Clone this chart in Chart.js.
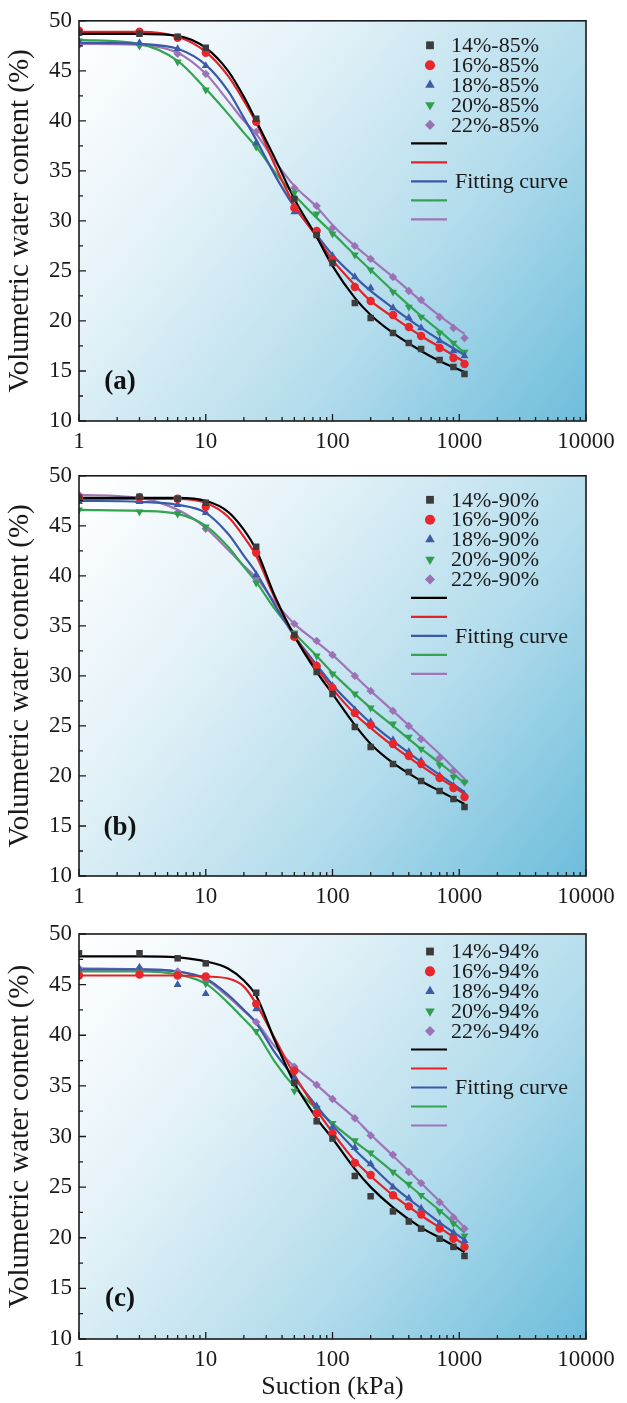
<!DOCTYPE html>
<html>
<head>
<meta charset="utf-8">
<script src="https://cdn.jsdelivr.net/npm/chart.js@4.4.0/dist/chart.umd.min.js"></script>
<style>
  html, body { margin: 0; padding: 0; background: #ffffff; }
  canvas { display: block; }
</style>
</head>
<body>
<canvas id="chartA" width="627" height="455"></canvas>
<canvas id="chartB" width="627" height="455"></canvas>
<canvas id="chartC" width="627" height="493"></canvas>
<script>
// Suction values (kPa) of the measured points and of the fitted curves
const suction = [1, 3, 6, 10, 25, 50, 75, 100, 150, 200, 300, 400, 500, 700, 900, 1100];
const fitSuction = [1, 3, 6, 10, 15, 20, 25, 35, 50, 75, 100, 150, 200, 300, 500, 700, 1100];
const decades = [1, 10, 100, 1000, 10000];
const moisture = ['14%', '16%', '18%', '20%', '22%'];

// (a) compaction 85%
const water85_14 = [48.8, 48.7, 48.4, 47.3, 40.2, 32.2, 28.6, 25.8, 21.8, 20.3, 18.8, 17.8, 17.2, 16.1, 15.4, 14.7];
const water85_16 = [49.0, 48.9, 48.3, 46.8, 39.9, 31.3, 29.0, 26.1, 23.4, 22.0, 20.6, 19.4, 18.5, 17.3, 16.3, 15.7];
const water85_18 = [47.9, 47.8, 47.2, 45.5, 37.8, 30.9, 28.7, 26.5, 24.4, 23.3, 21.3, 20.3, 19.3, 18.0, 17.0, 16.5];
const water85_20 = [48.0, 47.5, 45.9, 43.1, 37.4, 32.8, 30.7, 28.7, 26.6, 25.1, 22.9, 21.4, 20.4, 18.8, 17.8, 16.9];
const water85_22 = [47.6, 47.6, 46.7, 44.7, 38.9, 33.3, 31.5, 29.3, 27.5, 26.2, 24.4, 23.0, 22.1, 20.4, 19.3, 18.3];
const fit85_14 = [48.7, 48.7, 48.5, 47.3, 45.0, 42.4, 40.0, 36.3, 32.2, 28.4, 25.5, 22.3, 20.6, 18.8, 17.0, 16.0, 14.9];
const fit85_16 = [48.9, 48.9, 48.4, 46.9, 44.5, 42.0, 39.8, 35.6, 31.6, 28.4, 26.1, 23.6, 22.0, 20.4, 18.5, 17.4, 15.9];
const fit85_18 = [47.8, 47.7, 47.2, 45.6, 43.0, 40.3, 38.1, 34.6, 31.4, 28.6, 26.6, 24.4, 23.0, 21.3, 19.3, 18.1, 16.6];
const fit85_20 = [48.1, 47.7, 46.0, 43.2, 40.7, 38.8, 37.4, 34.9, 32.6, 30.3, 28.8, 26.6, 25.1, 23.0, 20.5, 19.0, 16.8];
const fit85_22 = [47.7, 47.6, 46.8, 44.7, 42.0, 40.0, 38.7, 36.0, 33.5, 31.4, 29.6, 27.5, 26.2, 24.4, 22.0, 20.5, 18.7];

// (b) compaction 90%
const water90_14 = [47.8, 47.9, 47.7, 47.3, 42.9, 34.1, 30.4, 28.2, 24.9, 22.9, 21.2, 20.4, 19.5, 18.5, 17.7, 16.9];
const water90_16 = [47.8, 47.8, 47.7, 46.9, 42.3, 33.9, 31.0, 28.8, 26.3, 25.1, 23.2, 22.0, 21.2, 19.8, 18.8, 17.9];
const water90_18 = [47.4, 47.4, 47.1, 46.3, 40.1, 33.9, 31.1, 29.0, 26.6, 25.4, 23.6, 22.4, 21.5, 20.0, 19.0, 18.1];
const water90_20 = [46.6, 46.4, 46.2, 44.9, 39.3, 34.3, 32.0, 30.2, 28.2, 26.8, 25.2, 23.9, 22.7, 21.1, 19.9, 19.4];
const water90_22 = [48.1, 47.9, 46.3, 44.7, 39.8, 35.2, 33.5, 32.1, 30.0, 28.5, 26.5, 25.0, 23.7, 21.8, 20.5, 19.4];
const fit90_14 = [47.8, 47.8, 47.8, 47.5, 46.4, 44.6, 42.6, 38.0, 34.0, 30.4, 28.2, 25.1, 23.2, 21.3, 19.5, 18.5, 17.2];
const fit90_16 = [47.7, 47.7, 47.7, 47.3, 45.9, 43.9, 42.0, 37.8, 34.0, 30.8, 28.7, 26.2, 24.8, 23.0, 21.0, 19.8, 18.2];
const fit90_18 = [47.5, 47.4, 47.1, 46.3, 44.2, 42.0, 40.3, 37.1, 34.0, 31.1, 29.1, 26.8, 25.3, 23.5, 21.4, 20.1, 18.4];
const fit90_20 = [46.6, 46.5, 46.2, 45.0, 42.9, 40.9, 39.4, 36.7, 34.3, 32.0, 30.3, 28.2, 26.8, 25.0, 22.7, 21.3, 19.3];
const fit90_22 = [48.1, 47.8, 46.6, 44.8, 42.6, 41.0, 39.8, 37.4, 35.2, 33.4, 32.1, 30.0, 28.5, 26.5, 23.9, 22.2, 19.7];

// (c) compaction 94%
const water94_14 = [48.1, 48.1, 47.6, 47.1, 44.2, 35.3, 31.5, 29.8, 26.1, 24.1, 22.6, 21.6, 20.9, 19.9, 19.1, 18.2];
const water94_16 = [45.9, 46.0, 45.9, 45.8, 43.1, 36.5, 32.3, 30.3, 27.4, 26.2, 24.2, 23.1, 22.3, 20.9, 19.9, 19.1];
const water94_18 = [46.6, 46.7, 45.0, 44.1, 42.6, 35.7, 33.0, 30.9, 28.9, 27.3, 25.0, 23.9, 22.9, 21.4, 20.5, 19.7];
const water94_20 = [46.3, 46.3, 46.0, 45.1, 40.4, 34.5, 32.8, 31.3, 29.6, 28.4, 26.5, 25.3, 24.2, 22.6, 21.4, 20.2];
const water94_22 = [46.6, 46.6, 46.3, 45.5, 41.3, 36.9, 35.1, 33.7, 31.8, 30.1, 28.2, 26.5, 25.4, 23.5, 22.0, 20.9];
const fit94_14 = [47.8, 47.8, 47.7, 47.3, 46.6, 45.4, 43.9, 39.5, 35.3, 31.8, 29.8, 26.8, 25.0, 23.0, 21.0, 20.0, 18.6];
const fit94_16 = [45.9, 45.9, 45.9, 45.8, 45.6, 44.8, 43.1, 39.7, 36.1, 32.6, 30.4, 27.6, 26.1, 24.2, 22.2, 21.0, 19.3];
const fit94_18 = [46.5, 46.5, 46.3, 45.6, 44.0, 42.5, 41.2, 38.3, 35.8, 33.0, 31.1, 28.7, 27.2, 25.1, 22.9, 21.5, 19.8];
const fit94_20 = [46.3, 46.3, 46.0, 45.1, 43.2, 41.6, 40.3, 37.4, 34.9, 32.7, 31.3, 29.5, 28.3, 26.5, 24.2, 22.7, 20.5];
const fit94_22 = [46.6, 46.5, 46.3, 45.5, 43.8, 42.4, 41.3, 38.9, 36.9, 35.1, 33.7, 31.8, 30.2, 28.1, 25.4, 23.6, 21.0];

const fontFamily = "'Liberation Serif', 'Times New Roman', serif";
const inkColor = '#1a1a1a';
const markerColors = ['#3c3c3c', '#e8262b', '#3d5ca8', '#2f9e4f', '#9b72b4'];
const curveColors = ['#000000', '#e32227', '#3a59a6', '#32a452', '#a074b8'];
const markerStyles = ['rect', 'circle', 'triangle', 'triangle', 'rectRot'];
const markerRotation = [0, 0, 0, 180, 0];
const markerRadius = [4.6, 4.2, 4.6, 4.6, 4.2];


/* Blue wash behind the plot area */
const plotBackground = {
    id: 'plotBackground',
    beforeDatasetsDraw(chart) {
        const { ctx, chartArea: a } = chart;
        const g = ctx.createLinearGradient(a.left, a.top, a.right, a.bottom);
        g.addColorStop(0, '#ffffff');
        g.addColorStop(0.3, '#e4f2f8');
        g.addColorStop(0.65, '#b3dcec');
        g.addColorStop(1, '#6dbddb');
        ctx.save();
        ctx.fillStyle = g;
        ctx.fillRect(a.left, a.top, a.right - a.left, a.bottom - a.top);
        ctx.restore();
    }
};


/* Closed frame with tick marks pointing into the plot, plus the panel tag */
const frameAndTicks = {
    id: 'frameAndTicks',
    afterDatasetsDraw(chart, args, opts) {
        const { ctx, chartArea: a, scales } = chart;
        ctx.save();
        ctx.strokeStyle = inkColor;
        ctx.lineWidth = 1.6;
        ctx.strokeRect(a.left, a.top, a.right - a.left, a.bottom - a.top);

        ctx.lineWidth = 1.3;
        ctx.beginPath();
        // x: decades long, 2..9 short
        decades.forEach(d => {
            for (let m = 1; m <= 9; m++) {
                const v = d * m;
                if (v > 10000) break;
                const px = scales.x.getPixelForValue(v);
                const len = m === 1 ? 7 : 4;
                ctx.moveTo(px, a.bottom);
                ctx.lineTo(px, a.bottom - len);
            }
        });
        // y: every 5 long, halfway short
        for (let v = 10; v <= 50; v += 2.5) {
            const py = scales.y.getPixelForValue(v);
            const len = v % 5 === 0 ? 7 : 4;
            ctx.moveTo(a.left, py);
            ctx.lineTo(a.left + len, py);
        }
        ctx.stroke();

        ctx.fillStyle = '#111111';
        ctx.font = 'bold 27px ' + fontFamily;
        ctx.textAlign = 'center';
        ctx.textBaseline = 'middle';
        ctx.fillText(opts.tag, a.left + 41, a.bottom - opts.tagLift);
        ctx.restore();
    }
};


/* Legend box in the upper right: markers with labels, then curve swatches */
const cornerLegend = {
    id: 'cornerLegend',
    afterDraw(chart, args, opts) {
        const { ctx, chartArea: a } = chart;
        const sets = chart.data.datasets;
        ctx.save();
        ctx.font = '22px ' + fontFamily;
        ctx.textBaseline = 'middle';
        ctx.textAlign = 'left';
        for (let i = 0; i < 5; i++) {
            const y = a.top + opts.top + i * 19.9;
            const ds = sets[i];
            ctx.fillStyle = ds.backgroundColor;
            Chart.helpers.drawPoint(ctx, {
                pointStyle: ds.pointStyle,
                rotation: ds.pointRotation,
                radius: ds.pointRadius * 1.2,
                borderWidth: 0
            }, a.right - 156, y);
            ctx.fillStyle = inkColor;
            ctx.fillText(opts.labels[i], a.right - 135, y + 1);
        }
        for (let i = 0; i < 5; i++) {
            const y = a.top + opts.top + 98 + i * 19;
            ctx.strokeStyle = sets[5 + i].borderColor;
            ctx.lineWidth = 2.2;
            ctx.beginPath();
            ctx.moveTo(a.right - 175, y);
            ctx.lineTo(a.right - 139, y);
            ctx.stroke();
        }
        ctx.fillStyle = inkColor;
        ctx.fillText('Fitting curve', a.right - 131, a.top + opts.top + 98 + 2 * 19 + 1);
        ctx.restore();
    }
};


/* Builds one panel of measured points and fitted curves */
const buildPanel = (canvasId, measured, fits, degree, tag, layout) => {

    const pointSets = measured.map((vals, i) => ({
        label: moisture[i] + '-' + degree,
        data: suction.map((s, k) => ({ x: s, y: vals[k] })),
        showLine: false,
        pointStyle: markerStyles[i],
        pointRotation: markerRotation[i],
        pointRadius: markerRadius[i],
        pointBorderWidth: 0,
        backgroundColor: markerColors[i],
        borderColor: markerColors[i]
    }));

    const curveSets = fits.map((vals, i) => ({
        label: 'Fitting curve ' + moisture[i],
        data: fitSuction.map((s, k) => ({ x: s, y: vals[k] })),
        borderColor: curveColors[i],
        borderWidth: 2.2,
        pointRadius: 0,
        cubicInterpolationMode: 'monotone',
        fill: false
    }));

    const canvas = document.getElementById(canvasId);

    const config = {
        type: 'line',
        data: { datasets: pointSets.concat(curveSets) },
        options: {
            responsive: false,
            animation: false,
            events: [],
            layout: { padding: { left: 0, right: 41, top: layout.top, bottom: 0 } },
            plugins: {
                legend: { display: false },
                tooltip: { enabled: false },
                frameAndTicks: { tag: tag, tagLift: layout.tagLift },
                cornerLegend: {
                    top: layout.legendTop,
                    labels: moisture.map(m => m + '-' + degree)
                }
            },
            scales: {
                x: {
                    type: 'logarithmic',
                    min: 1,
                    max: 10000,
                    afterBuildTicks: (scale) => {
                        scale.ticks = decades.map(v => ({ value: v }));
                    },
                    afterFit: (scale) => {
                        scale.height = canvas.height - layout.top - layout.plot;
                    },
                    grid: { display: false, drawTicks: false },
                    border: { display: false },
                    ticks: {
                        autoSkip: false,
                        maxRotation: 0,
                        padding: 7,
                        color: inkColor,
                        font: { family: fontFamily, size: 23 },
                        callback: (v) => String(v)
                    },
                    title: {
                        display: layout.xTitle,
                        text: 'Suction (kPa)',
                        color: inkColor,
                        font: { family: fontFamily, size: 26 },
                        padding: { top: 0, bottom: 0 }
                    }
                },
                y: {
                    min: 10,
                    max: 50,
                    afterFit: (scale) => {
                        scale.width = 79;
                    },
                    grid: { display: false, drawTicks: false },
                    border: { display: false },
                    ticks: {
                        stepSize: 5,
                        padding: 7,
                        color: inkColor,
                        font: { family: fontFamily, size: 23 }
                    },
                    title: {
                        display: true,
                        text: 'Volumetric water content (%)',
                        color: inkColor,
                        font: { family: fontFamily, size: 29 },
                        padding: { top: 3, bottom: 0 }
                    }
                }
            }
        },
        plugins: [plotBackground, frameAndTicks, cornerLegend]
    };

    new Chart(canvas.getContext('2d'), config);
}


const init = () => {
    buildPanel('chartA',
        [water85_14, water85_16, water85_18, water85_20, water85_22],
        [fit85_14, fit85_16, fit85_18, fit85_20, fit85_22],
        '85%', '(a)', { top: 17, plot: 404, legendTop: 24.5, tagLift: 39, xTitle: false });
    buildPanel('chartB',
        [water90_14, water90_16, water90_18, water90_20, water90_22],
        [fit90_14, fit90_16, fit90_18, fit90_20, fit90_22],
        '90%', '(b)', { top: 18, plot: 403, legendTop: 24, tagLift: 48, xTitle: false });
    buildPanel('chartC',
        [water94_14, water94_16, water94_18, water94_20, water94_22],
        [fit94_14, fit94_16, fit94_18, fit94_20, fit94_22],
        '94%', '(c)', { top: 24, plot: 405, legendTop: 17.5, tagLift: 40, xTitle: true });
}

document.addEventListener("DOMContentLoaded", () => {
    init();
});
</script>
</body>
</html>
